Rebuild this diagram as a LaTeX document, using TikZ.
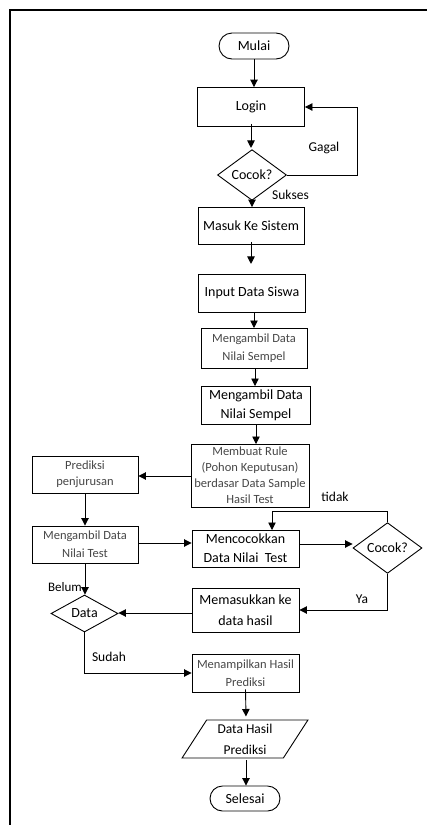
\documentclass[tikz,border=0pt]{standalone}
\usepackage{fontspec}
\setmainfont{Carlito}
\usetikzlibrary{arrows.meta,shapes.geometric,shapes.misc}
\begin{document}
\begin{tikzpicture}[x=1pt,y=-1pt,
  every node/.style={font=\fontsize{14}{18}\selectfont, inner sep=0pt, align=center},
  proc/.style={draw, line width=0.9pt, rectangle},
  term/.style={draw, line width=0.9pt, rounded rectangle},
  decide/.style={draw, line width=0.9pt, diamond},
  io/.style={draw, line width=0.9pt, trapezium, trapezium left angle=60, trapezium right angle=120, trapezium stretches=true},
  lite/.style={text=black!72, font=\fontsize{12.5}{18}\selectfont},
  lbl/.style={font=\fontsize{13.5}{16}\selectfont},
  arr/.style={line width=0.9pt, -{Triangle[length=7.5pt,width=7.5pt]}},
  ln/.style={line width=0.9pt}]
\useasboundingbox (0,0) rectangle (427,825);
\draw[line width=1.3pt] (10,825) -- (10,10) -- (427,10);

\node[term, minimum width=70, minimum height=26] (mulai) at (254,46) {Mulai};
\node[proc, minimum width=107, minimum height=39] (login) at (251,107) {Login};
\node[decide, minimum width=69, minimum height=36] (cocok1) at (252,175) {Cocok?};
\node[proc, minimum width=106, minimum height=37] (masuk) at (251,226) {Masuk Ke Sistem};
\node[proc, minimum width=107, minimum height=38] (input) at (252,293) {Input Data Siswa};
\node[proc, lite, minimum width=106, minimum height=40] (ambil1) at (254,348) {Mengambil Data\\Nilai Sempel};
\node[proc, minimum width=109, minimum height=38, font=\fontsize{14}{19}\selectfont] (ambil2) at (256,405) {Mengambil Data\\Nilai Sempel};
\node[proc, lite, minimum width=118, minimum height=63, font=\fontsize{12.5}{16}\selectfont] (rule) at (250,475.5) {Membuat Rule\\(Pohon Keputusan)\\berdasar Data Sample\\Hasil Test};
\node[proc, lite, minimum width=106, minimum height=37, font=\fontsize{12.5}{16}\selectfont] (prediksi) at (85,474.5) {Prediksi\\penjurusan};
\node[proc, lite, minimum width=106, minimum height=37] (ambiltest) at (85,544.5) {Mengambil Data\\Nilai Test};
\node[proc, minimum width=107, minimum height=37, font=\fontsize{14}{19}\selectfont] (cocokkan) at (245.5,548.5) {Mencocokkan\\Data Nilai\ \ Test};
\node[decide, minimum width=69, minimum height=36] (cocok2) at (387.5,548) {Cocok?};
\node[proc, minimum width=107, minimum height=44, font=\fontsize{14}{21}\selectfont] (masukkan) at (245.5,610) {Memasukkan ke\\data hasil};
\node[decide, minimum width=67, minimum height=37] (data) at (84.5,613.5) {Data};
\node[proc, lite, minimum width=107, minimum height=38] (tampil) at (245.5,673) {Menampilkan Hasil\\Prediksi};
\node[io, minimum width=126, minimum height=38, font=\fontsize{13.5}{21}\selectfont] (hasil) at (245,739) {Data Hasil\\Prediksi};
\node[term, minimum width=70, minimum height=25] (selesai) at (245,798.5) {Selesai};

\draw[arr] (mulai.south) -- (mulai.south |- login.north);
\draw[arr] ([yshift=3]login.south) -- ++(0,24);
\draw[arr] (cocok1.east) -- (357,175) |- (login.east);
\node[lbl] (gagal) at (324,148) {Gagal};
\draw[arr] (cocok1.south) -- (cocok1.south |- masuk.north);
\node[lbl, anchor=west] (sukses) at (272,195) {Sukses};
\draw[arr] ([yshift=3]masuk.south) -- ++(0,22);
\draw[arr] (254,312) -- (254,328);
\draw[arr] (255,368) -- (255,386);
\draw[arr] (256,424) -- (256,444);
\draw[arr] (rule.west |- 0,476) -- (prediksi.east |- 0,476);
\draw[arr] (prediksi.south) -- (prediksi.south |- ambiltest.north);
\draw[arr] (ambiltest.east |- 0,543) -- (cocokkan.west |- 0,543);
\draw[arr] (cocokkan.east |- 0,544) -- (cocok2.west |- 0,544);
\draw[arr] (cocok2.north) |- (272,511) -- (272,530);
\node[lbl] (tidak) at (335,497) {tidak};
\draw[arr] (cocok2.south) |- (masukkan.east);
\node[lbl] (ya) at (362,599.5) {Ya};
\draw[arr] (masukkan.west |- 0,613) -- (data.east |- 0,613);
\draw[arr] (ambiltest.south) -- (ambiltest.south |- data.north);
\node[lbl, font=\fontsize{13}{14}\selectfont] (belum) at (65,587) {Belum};
\draw[arr] (data.south) |- (tampil.west);
\node[lbl] (sudah) at (109,657) {Sudah};
\draw[arr] ([yshift=3]tampil.south) -- (246,716.5);
\draw[arr] (246,760) -- (selesai.north -| 246,0);
\end{tikzpicture}
\end{document}
